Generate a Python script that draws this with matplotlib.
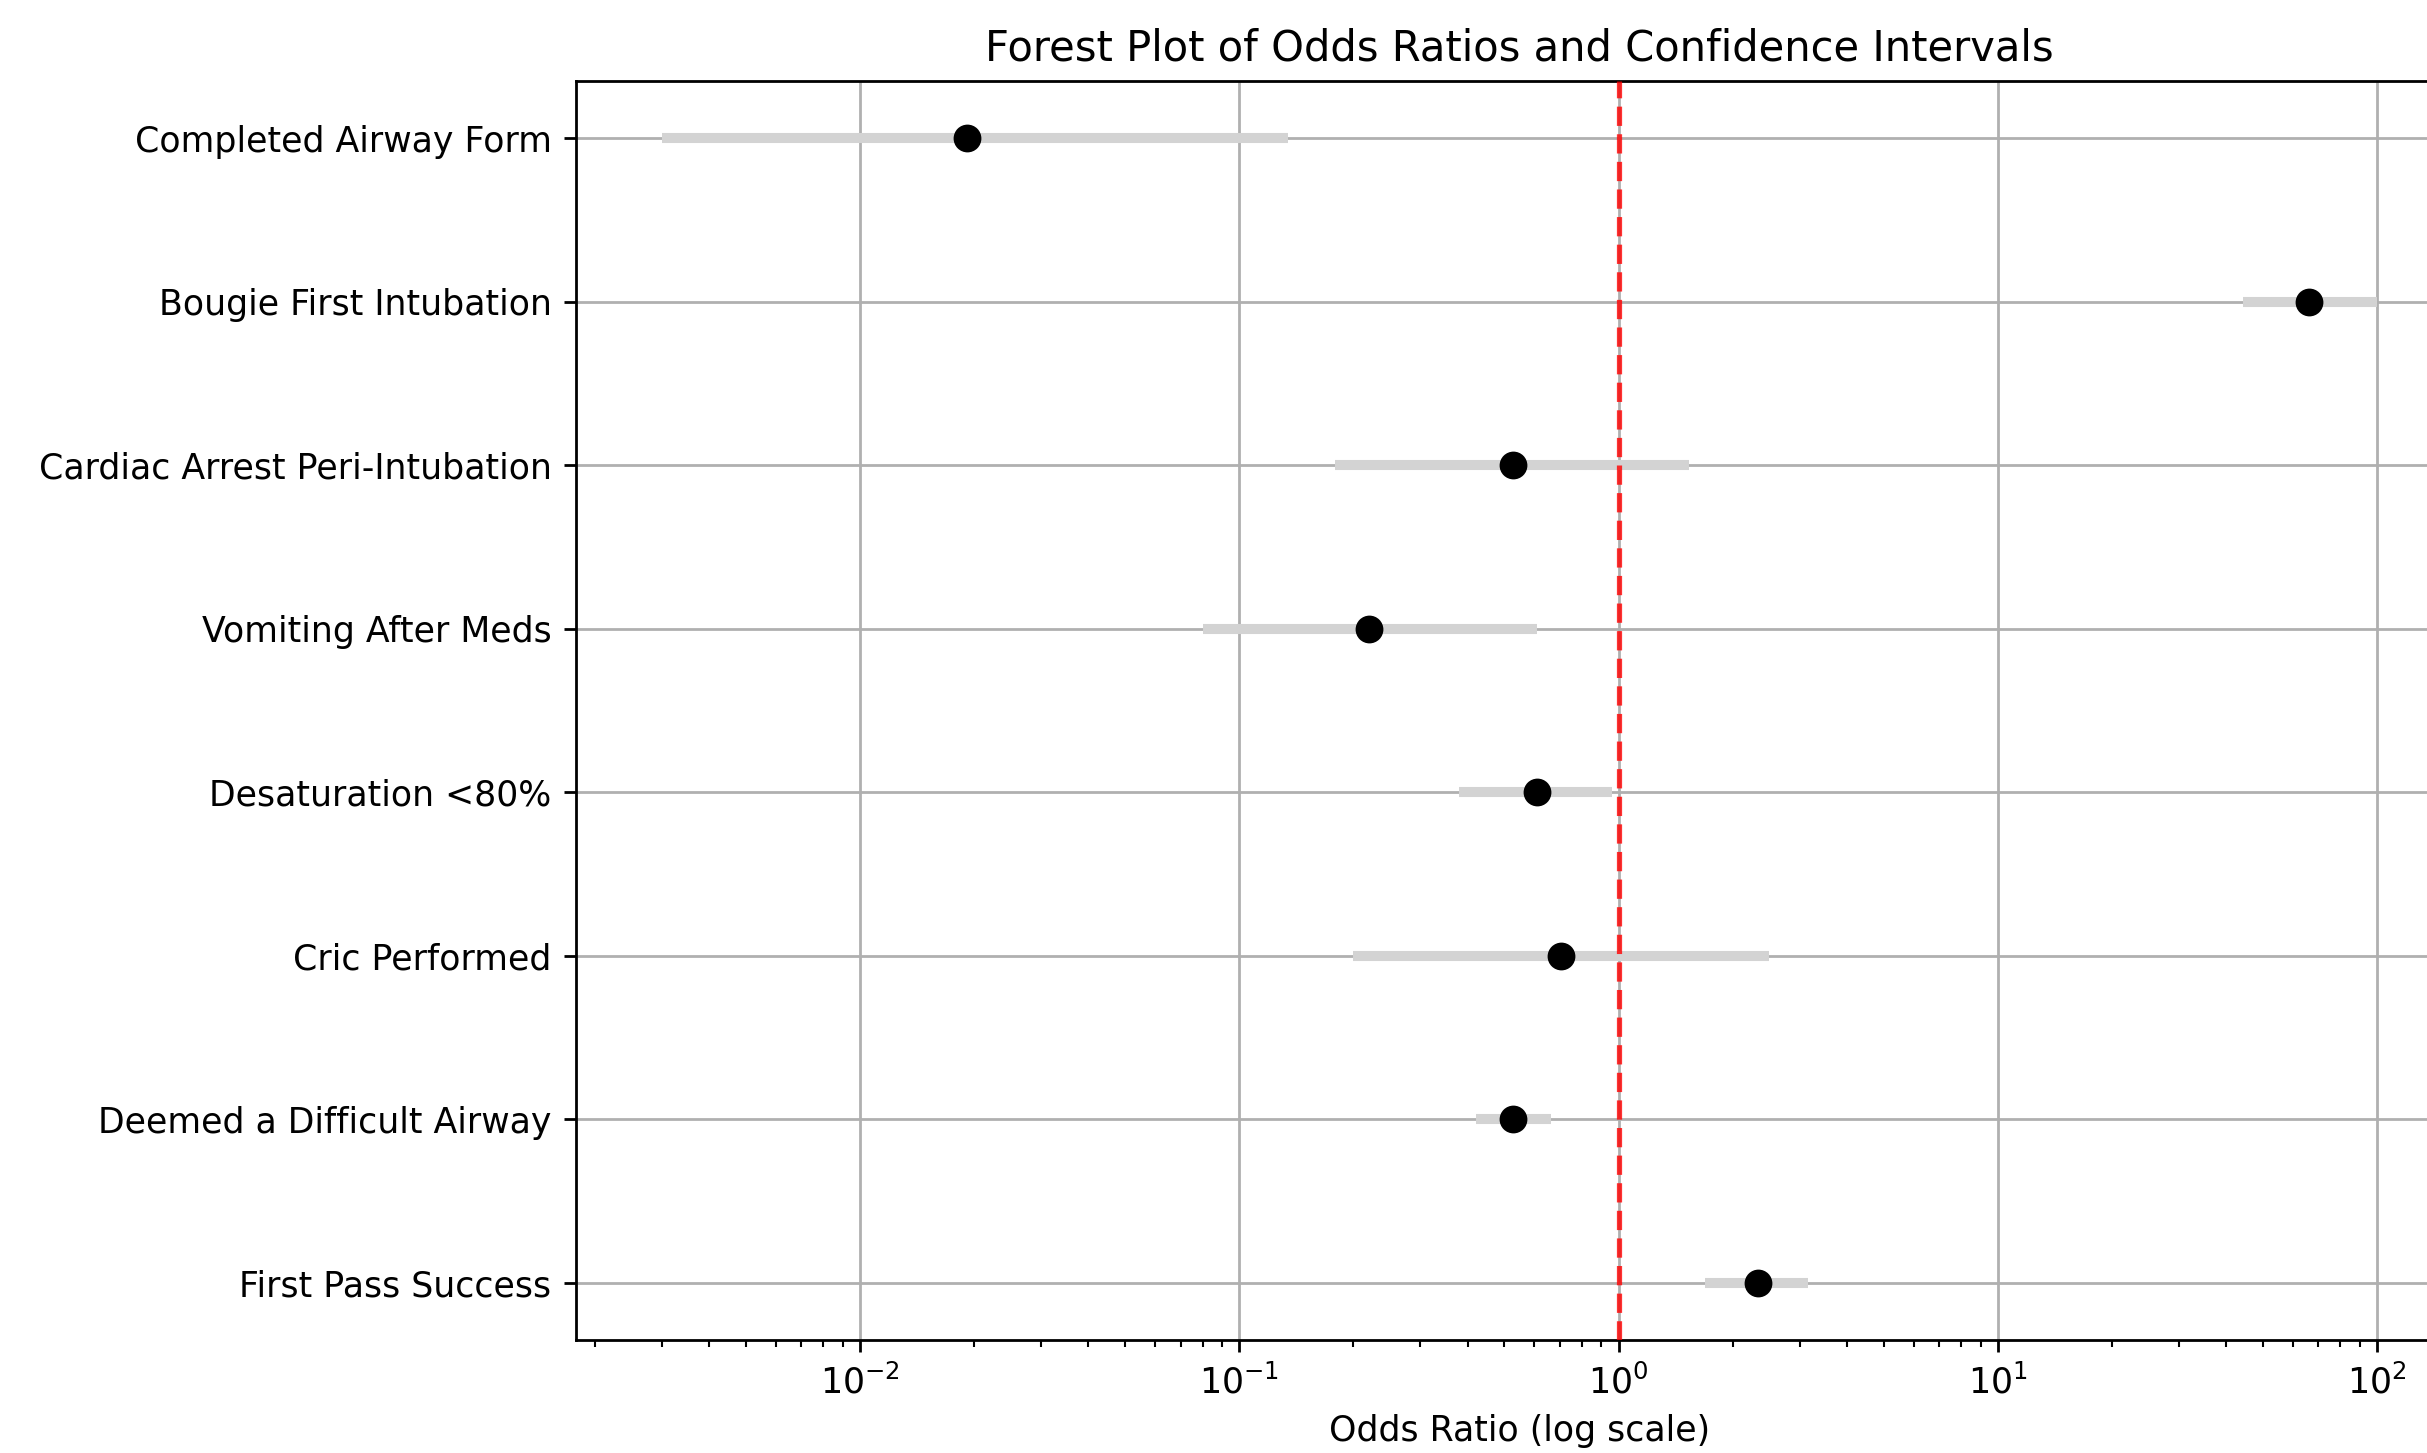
import numpy as np
import matplotlib.pyplot as plt

# Odds ratios e intervalos de confiança
outcomes = [
    "First Pass Success", "Deemed a Difficult Airway", "Cric Performed",
    "Desaturation <80%", "Vomiting After Meds", "Cardiac Arrest Peri-Intubation",
    "Bougie First Intubation", "Completed Airway Form"
]
odds_ratio = np.array([2.33, 0.528, 0.707, 0.611, 0.220, 0.527, 66.2, 0.0191])
ci_low = np.array([1.69, 0.42, 0.20, 0.38, 0.080, 0.179, 44.3, 0.0030])
ci_high = np.array([3.15, 0.665, 2.49, 0.96, 0.608, 1.53, 100.0, 0.134])

if __name__ == '__main__':
    fig = plt.figure(figsize=(2427 / 250, 1453 / 250), dpi=250)
    ax = fig.add_axes([0.2373, 0.0778, 0.7775, 0.8665])

    y = np.arange(len(outcomes))
    ax.hlines(y, ci_low, ci_high, color='lightgray', linewidth=2.9, zorder=2)
    ax.plot(odds_ratio, y, 'o', color='black', markersize=7, zorder=3)
    ax.axvline(x=1, color='red', linestyle='--', linewidth=1.5, alpha=0.8, zorder=4)

    ax.set_xscale('log')
    ax.set_yticks(y)
    ax.set_yticklabels(outcomes)
    ax.set_xlabel("Odds Ratio (log scale)")
    ax.set_title("Forest Plot of Odds Ratios and Confidence Intervals")
    ax.grid(True, zorder=0)
    ax.set_axisbelow(True)

    fig.savefig("out.png", dpi=250)
